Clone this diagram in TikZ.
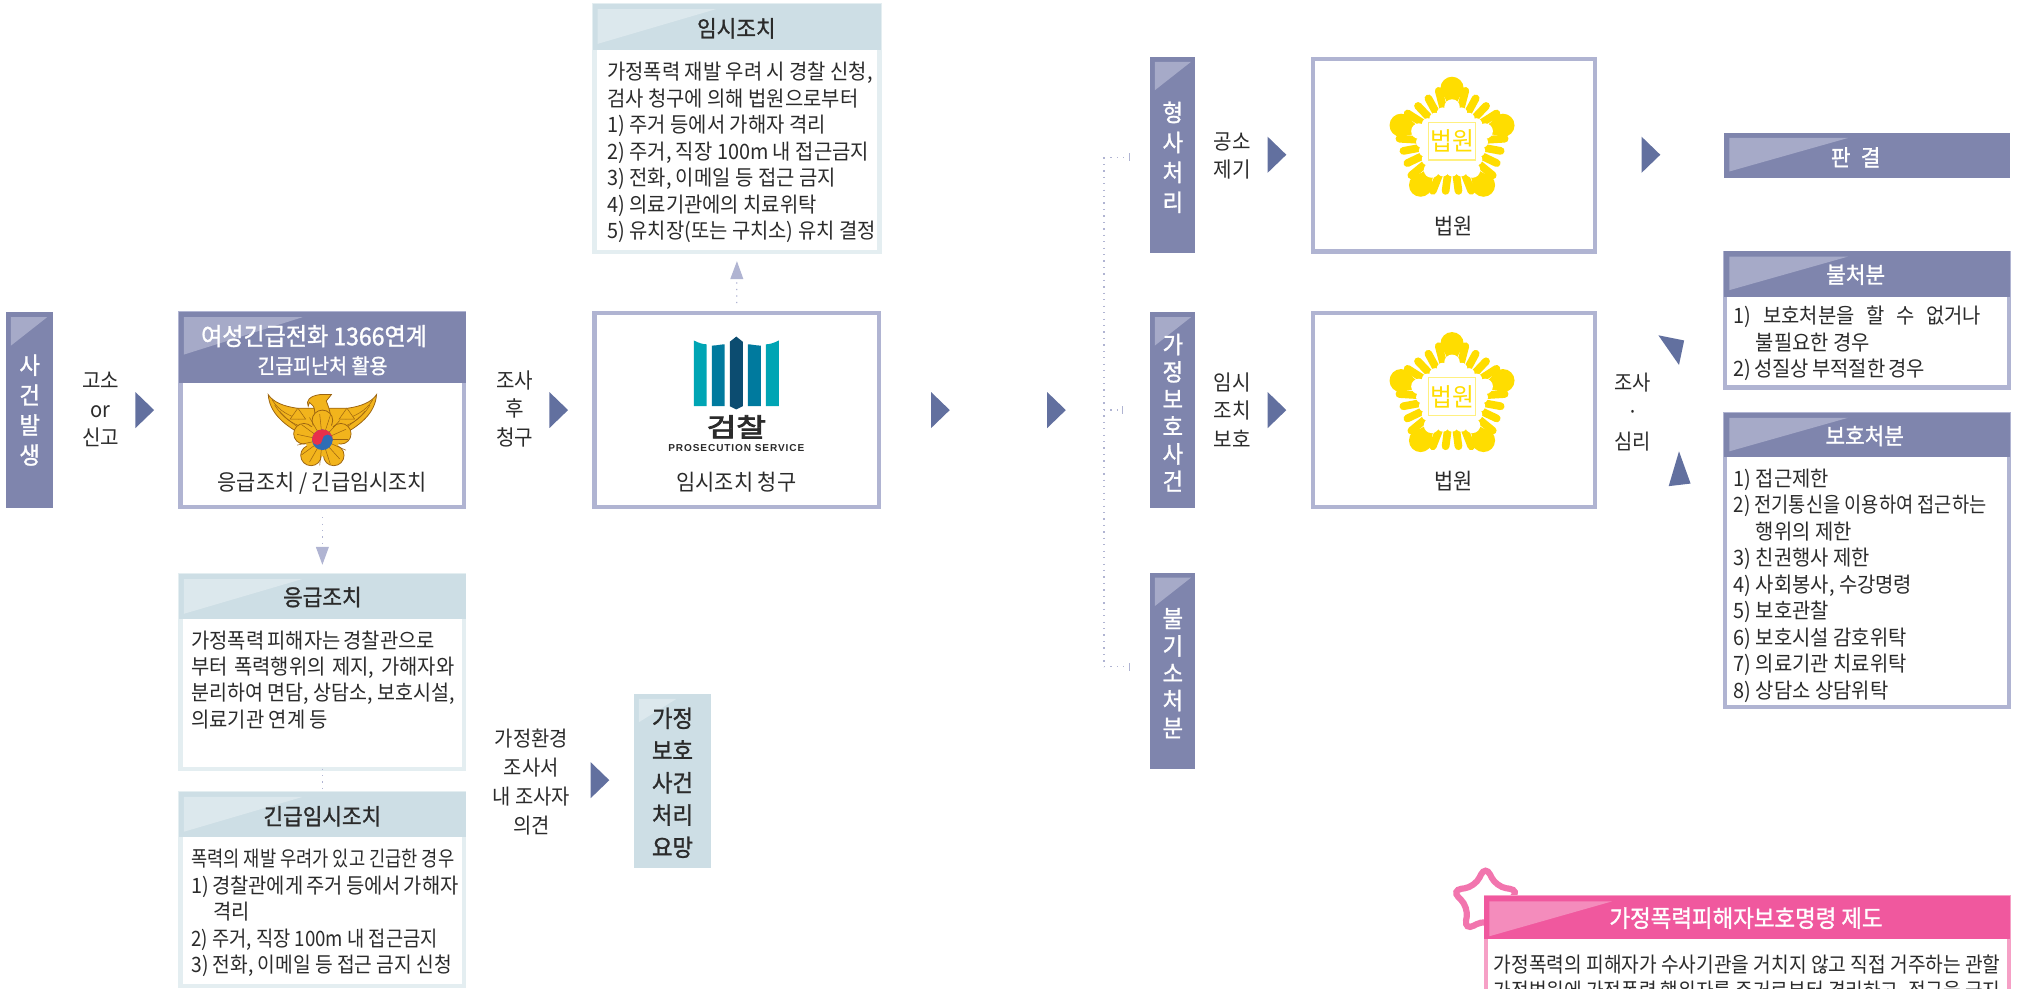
\documentclass[tikz,border=0pt]{standalone}
\usepackage{fontspec}
\usepackage{graphicx}
\setmainfont[FakeStretch=0.94]{Noto Sans CJK KR}
\newfontfamily\hdrf[FakeBold=1.2,FakeStretch=0.94]{Noto Sans CJK KR}
\newfontfamily\heavyf[FakeBold=3]{Noto Sans CJK KR}
\newfontfamily\prosf[LetterSpace=9]{Liberation Sans}
\usetikzlibrary{arrows.meta,shapes.geometric,calc}
\definecolor{navy}{HTML}{7F85AD}
\definecolor{navyl}{HTML}{A6AAC8}
\definecolor{navyb}{HTML}{B0B4D2}
\definecolor{teal}{HTML}{CDDEE5}
\definecolor{teall}{HTML}{DCE8ED}
\definecolor{tealb}{HTML}{E4EEF1}
\definecolor{tri}{HTML}{62709F}
\definecolor{ink}{HTML}{2B2B2B}
\definecolor{pink}{HTML}{F0589E}
\definecolor{pinkl}{HTML}{F48CBC}
\definecolor{pinkb}{HTML}{F6A0C6}
\definecolor{seal}{HTML}{FFDD00}
\definecolor{sealb}{HTML}{FFF080}
\definecolor{gold}{HTML}{F2B41C}
\definecolor{goldd}{HTML}{9C6410}
\definecolor{pa}{HTML}{00A5B4}
\definecolor{pb}{HTML}{007A9E}
\definecolor{pc}{HTML}{0C4C70}
\definecolor{tgr}{HTML}{E8304A}
\definecolor{tgb}{HTML}{2F6DB5}
\newcommand{\fs}[2]{\fontsize{#1}{#2}\selectfont}
\newcommand{\spr}[2]{\makebox[#1][s]{#2}}
\newcommand{\nar}[2]{\resizebox{#1}{\height}{#2}}
\newcommand{\rct}[6]{% name x1 y1 x2 y2 style
  \pgfmathsetmacro{\rw}{(#4-#2)*0.5}\pgfmathsetmacro{\rh}{(#5-#3)*0.5}
  \node[#6,minimum width=\rw pt,minimum height=\rh pt] (#1) at ({(#2+#4)/2},{(#3+#5)/2}) {};}
\newcommand{\corner}[5]{% node color dx dw dh
  \fill[#2] ([shift={(#3,4)}]#1.north west) -- ([shift={(#3+#4,4)}]#1.north west) -- ([shift={(#3,4+#5)}]#1.north west) -- cycle;}
\newcommand{\arr}[2]{\fill[tri] (#1,#2-14) -- (#1+14.5,#2) -- (#1,#2+14) -- cycle;}
\newcommand{\courtseal}[3]{% name cx cy
  \begin{scope}[shift={(#2,#3)}]
    \foreach \a in {90,162,234,306,18}{
      \pgfmathsetmacro{\ca}{cos(\a)}\pgfmathsetmacro{\sa}{sin(\a)}
      \fill[seal] ({41.5*\ca},{-41.5*\sa}) circle[radius=9];
      \fill[seal] ({41.5*\ca+8.9*\sa},{-41.5*\sa+8.9*\ca}) -- ({41.5*\ca-8.9*\sa},{-41.5*\sa-8.9*\ca}) -- ({22*\ca},{-22*\sa}) -- cycle;
      \pgfmathsetmacro{\cb}{cos(\a+72)}\pgfmathsetmacro{\sb}{sin(\a+72)}
      \foreach \t in {0.23,0.41,0.59,0.77}{
        \pgfmathsetmacro{\px}{47*((1-\t)*\ca+\t*\cb)}
        \pgfmathsetmacro{\py}{-47*((1-\t)*\sa+\t*\sb)}
        \draw[seal,line width=3pt,line cap=round] ({\px},{\py}) -- ({\px*0.6},{\py*0.6});
      }
    }
    \foreach \a in {90,162,234,306,18}{
      \pgfmathsetmacro{\ca}{cos(\a)}\pgfmathsetmacro{\sa}{sin(\a)}
      \fill[white] ({27*\ca},{-27*\sa}) circle[radius=6];
      \pgfmathsetmacro{\cb}{cos(\a+72)}\pgfmathsetmacro{\sb}{sin(\a+72)}
      \foreach \t in {0.28,0.5,0.72}{
        \fill[white] ({27.5*((1-\t)*\ca+\t*\cb)},{-27.5*((1-\t)*\sa+\t*\sb)}) circle[radius=4.5];
      }
    }
    \fill[white] ({29*cos(90)},{-29*sin(90)}) -- ({29*cos(162)},{-29*sin(162)}) -- ({29*cos(234)},{-29*sin(234)}) -- ({29*cos(306)},{-29*sin(306)}) -- ({29*cos(18)},{-29*sin(18)}) -- cycle;
    \node[draw=sealb,line width=.5pt,minimum width=18pt,minimum height=14.5pt,inner sep=0,text=seal,font=\fs{9.8}{9}] (#1) at (0,-0.5) {법원};
  \end{scope}}
\newcommand{\policeseal}[3]{% name cx cy
  \begin{scope}[shift={(#2,#3)}]
    \foreach \sx in {-1,1}{
      \begin{scope}[xscale=\sx]
        \filldraw[fill=gold,draw=goldd,line width=.3pt] (42,-27) .. controls (41,-13) and (30,-3) .. (12,6) -- (4,-8) -- (4,-16.5) -- (20,-16.5) .. controls (30,-18) and (38,-21) .. cycle;
        \draw[goldd,line width=.2pt] (37,-19) .. controls (31,-9) and (24,-5) .. (16,-2);
        \draw[goldd,line width=.2pt] (33,-14) .. controls (28,-8) and (22,-4) .. (15,1);
        \draw[goldd,line width=.2pt] (39,-23) .. controls (34,-14) and (24,-10) .. (18,-8);
        \filldraw[fill=gold,draw=goldd,line width=.2pt] (19,-16.5) -- (13,-8) -- (25,-8) -- cycle;
      \end{scope}}
    \filldraw[fill=gold,draw=goldd,line width=.3pt] (-6,4) -- (-6,-14) .. controls (-6,-18) and (-8,-19) .. (-10,-21) -- (-11,-18) .. controls (-13,-22) and (-10,-26) .. (-2,-27) -- (7,-27) -- (3,-22) .. controls (6,-15) and (7,-10) .. (7,4) -- cycle;
    \foreach \a in {90,162,234,306,18}{
      \filldraw[fill=gold,draw=goldd,line width=.3pt] ({15*cos(\a)},{8-15*sin(\a)}) circle[radius=8];}
    \fill[gold] ({16*cos(90)},{8-16*sin(90)}) -- ({16*cos(162)},{8-16*sin(162)}) -- ({16*cos(234)},{8-16*sin(234)}) -- ({16*cos(306)},{8-16*sin(306)}) -- ({16*cos(18)},{8-16*sin(18)}) -- cycle;
    \foreach \a in {0,24,...,336}{\draw[goldd,line width=.2pt] ({7*cos(\a)},{8-7*sin(\a)}) -- ({20*cos(\a)},{8-20*sin(\a)});}
    \fill[tgb] (0,8) circle[radius=8];
    \fill[tgr] (-8,8) arc[start angle=180,end angle=360,radius=8] -- cycle;
    \fill[tgr] (-4,8) circle[radius=4];
    \fill[tgb] (4,8) circle[radius=4];
    \coordinate (#1) at (0,8);
  \end{scope}}
\tikzset{
  x=0.5pt,y=-0.5pt,
  hdrbar/.style={fill=navy,inner sep=0,outer sep=0},
  hdrteal/.style={fill=teal,inner sep=0,outer sep=0},
  hdrpink/.style={fill=pink,inner sep=0,outer sep=0},
  frameb/.style={draw=navyb,fill=white,line width=1.6pt,inner sep=0,outer sep=0},
  framet/.style={draw=tealb,fill=white,line width=1.6pt,inner sep=0,outer sep=0},
  framep/.style={draw=pinkb,fill=white,line width=1.6pt,inner sep=0,outer sep=0},
  barlbl/.style={text=white,align=center,inner sep=0,font=\hdrf\fs{9.2}{10.6}},
  hlbl/.style={text=white,inner sep=0,align=center,font=\hdrf\fs{8.8}{11}},
  tlbl/.style={text=ink,inner sep=0,align=center,font=\hdrf\fs{8.8}{11}},
  lbl/.style={text=ink,inner sep=0,align=center,font=\fs{8.3}{11}},
  body/.style={text=ink,inner sep=0,align=left,anchor=north west,font=\fs{8.2}{10.27}},
  dotc/.style={draw=navyb,dotted,line width=.5pt},
  dota/.style={dotc,-{Triangle[width=5pt,length=7pt,fill=navyb]}},
}
\begin{document}
\begin{tikzpicture}
\useasboundingbox (0,0) rectangle (1568,766.2);
\clip (0,0) rectangle (1568,766.2);
% left bar
\rct{bA}{5}{242}{41}{394}{hdrbar}
\corner{bA}{navyl}{3.5}{28}{22}
\node[barlbl,font=\hdrf\fs{9.2}{11.6}] (bAt) at (23,318) {사\\건\\발\\생};
\node[lbl] (lA) at (78,317.5) {고소\\or\\신고};
\arr{105}{318}
% police box
\rct{polF}{140}{243}{360}{393}{frameb}
\rct{polH}{139}{242}{361}{297}{hdrbar}
\corner{polH}{navyl}{3.5}{92}{29}
\node[hlbl,font=\hdrf\fs{9.5}{11}] (polT) at (243.5,271.5) {여성긴급전화 1366연계\\{\hspace*{6.5pt}\fs{8.05}{11}긴급피난처 활용}};
\policeseal{polS}{250}{333}
\node[lbl,font=\fs{8.6}{11}] (polL) at (250,375) {응급조치 / 긴급임시조치};
\node[lbl] (lB) at (399,317) {조사\\후\\청구};
\arr{426}{318}
% prosecution
\rct{proF}{461}{243}{681.5}{393}{frameb}
\fill[pa] (538,264) .. controls (542,266) and (545,267) .. (548,267) -- (548,315) -- (538,315) -- cycle;
\fill[pb] (552,268) .. controls (556,268) and (559,267) .. (562,267) -- (562,315) -- (552,315) -- cycle;
\fill[pc] (566,265) -- (571,261) -- (576,265) -- (576,315) -- (571,317.5) -- (566,315) -- cycle;
\fill[pb] (580,267) .. controls (583,267) and (586,268) .. (590,268) -- (590,315) -- (580,315) -- cycle;
\fill[pa] (594,267) .. controls (597,267) and (600,266) .. (604,264) -- (604,315) -- (594,315) -- cycle;
\node[inner sep=0,text=ink,font=\heavyf\fs{10}{11}] (proB) at (571,331) {\scalebox{1.25}[1]{검찰}};
\node[inner sep=0,text=ink,font=\prosf\bfseries\fs{3.9}{5}] (proE) at (571,347.5) {PROSECUTION SERVICE};
\node[lbl,font=\fs{8.6}{11}] (proL) at (571,374) {임시조치 청구};
% temporary measures
\rct{tmF}{461}{4}{682}{195.5}{framet}
\rct{tmH}{460}{3}{683}{39}{hdrteal}
\corner{tmH}{teall}{3.5}{92}{27}
\node[tlbl] (tmT) at (571,22) {임시조치};
\node[body] (tmB) at (470.5,48) {가정폭력 재발 우려 시 경찰 신청,\\검사 청구에 의해 법원으로부터\\1) 주거 등에서 가해자 격리\\2) 주거, 직장 100m 내 접근금지\\3) 전화, 이메일 등 접근 금지\\4) 의료기관에의 치료위탁\\5) 유치장(또는 구치소) 유치 결정};
\draw[dota,shorten <=4pt,shorten >=3.5pt] (proF.north) -- (tmF.south);
% middle arrows
\arr{722}{318}
\arr{812}{318}
% emergency measures
\rct{emF}{140}{446}{360}{596}{framet}
\rct{emH}{139}{445}{361}{480}{hdrteal}
\corner{emH}{teall}{3.5}{92}{27}
\node[tlbl] (emT) at (250,463) {응급조치};
\node[body] (emB) at (148,488.5) {\spr{93.5pt}{가정폭력 피해자는 경찰관으로}\\\spr{102pt}{부터 폭력행위의 제지, 가해자와}\\\nar{102pt}{분리하여 면담, 상담소, 보호시설,}\\의료기관 연계 등};
\rct{eiF}{140}{615}{360}{764.5}{framet}
\rct{eiH}{139}{614}{361}{649}{hdrteal}
\corner{eiH}{teall}{3.5}{92}{27}
\node[tlbl] (eiT) at (250,633) {긴급임시조치};
\node[body] (eiB) at (148,658) {\nar{102pt}{폭력의 재발 우려가 있고 긴급한 경우}\\\spr{102pt}{1) 경찰관에게 주거 등에서 가해자}\\\phantom{1) }격리\\\nar{95.5pt}{2) 주거, 직장 100m 내 접근금지}\\\nar{101pt}{3) 전화, 이메일 등 접근 금지 신청}};
\draw[dota,shorten <=4pt,shorten >=3.5pt] (polF.south) -- (emH.north);
\draw[dotc] (emF.south) -- (eiH.north);
\node[lbl,font=\fs{8.2}{11.3}] (lC) at (412,606.5) {가정환경\\조사서\\내 조사자\\의견};
\arr{458}{605}
\rct{reqF}{492}{538}{551}{673}{hdrteal}
\corner{reqF}{teall}{3.5}{29}{18}
\node[tlbl,font=\hdrf\fs{9.2}{12.5}] (reqT) at (521.5,607) {가정\\보호\\사건\\처리\\요망};
% tree
\coordinate (tT) at (856,122);
\coordinate (tM) at (856,318);
\coordinate (tB) at (856,517);
\coordinate (eT) at (876,122);
\coordinate (eM) at (871,318);
\coordinate (eB) at (876,517);
\draw[dotc,-{Bar[width=3pt,line width=.3pt]}] (tT) -- (eT);
\draw[dotc,-{Bar[width=3pt,line width=.3pt]}] (tB) -- (eB);
\draw[dotc,-{Bar[width=3pt,line width=.3pt]}] (tM) -- (eM);
\draw[dotc] (tT) -- (tB);
% category bars
\rct{bB}{892}{44}{927}{196}{hdrbar}
\corner{bB}{navyl}{3.5}{28}{22}
\node[barlbl,font=\hdrf\fs{9.2}{11.6}] (bBt) at (909.5,122) {형\\사\\처\\리};
\rct{bC}{892}{242}{927}{394}{hdrbar}
\corner{bC}{navyl}{3.5}{28}{22}
\node[barlbl] (bCt) at (909.5,320) {가\\정\\보\\호\\사\\건};
\rct{bD}{892}{444}{927}{596}{hdrbar}
\corner{bD}{navyl}{3.5}{28}{22}
\node[barlbl] (bDt) at (909.5,522) {불\\기\\소\\처\\분};
\node[lbl] (lD) at (955.5,121) {공소\\제기};
\arr{983}{120}
\node[lbl] (lE) at (955.5,318) {임시\\조치\\보호};
\arr{983}{318}
% court boxes
\rct{cA}{1018}{46}{1237}{195}{frameb}
\courtseal{cAs}{1126}{110}
\node[lbl,font=\fs{8.6}{11}] (cAl) at (1127,175) {법원};
\rct{cB}{1018}{243}{1237}{393}{frameb}
\courtseal{cBs}{1126}{308}
\node[lbl,font=\fs{8.6}{11}] (cBl) at (1127,373) {법원};
\arr{1273}{120}
% verdict
\rct{vA}{1337}{103}{1559}{138}{hdrbar}
\corner{vA}{navyl}{4}{92}{26}
\node[hlbl] (vAt) at (1439,122) {판\hspace{4pt}결};
% no disposition
\rct{ndF}{1338}{196}{1558}{300.5}{frameb}
\rct{ndH}{1337}{195}{1559}{230}{hdrbar}
\corner{ndH}{navyl}{4}{92}{26}
\node[hlbl] (ndT) at (1439,213) {불처분};
\node[body] (ndB) at (1344,237) {\spr{96pt}{1) 보호처분을 할 수 없거나}\\\phantom{1) }불필요한 경우\\\spr{73.5pt}{2) 성질상 부적절한 경우}};
% protection disposition
\rct{pdF}{1338}{321}{1558}{548.5}{frameb}
\rct{pdH}{1337}{320}{1559}{354}{hdrbar}
\corner{pdH}{navyl}{4}{92}{26}
\node[hlbl] (pdT) at (1446,338) {보호처분};
\node[body] (pdB) at (1344,363) {1) 접근제한\\\nar{98pt}{2) 전기통신을 이용하여 접근하는}\\\phantom{1) }행위의 제한\\3) 친권행사 제한\\4) 사회봉사, 수강명령\\5) 보호관찰\\6) 보호시설 감호위탁\\7) 의료기관 치료위탁\\8) 상담소 상담위탁};
\node[lbl,font=\fs{8.2}{11.6}] (lF) at (1266,319.5) {조사\\·\\심리};
\fill[tri] (1286,260) -- (1306,264) -- (1302,283) -- cycle;
\fill[tri] (1302,350) -- (1311,375) -- (1294,377) -- cycle;
% pink box
\node[star,star points=5,star point ratio=2,draw=pinkb!40!pink,fill=white,line width=2.4pt,rounded corners=4pt,minimum size=28pt,inner sep=0] (starK) at (1152,699) {};
\rct{hpF}{1152}{696}{1558}{790}{framep}
\rct{hpH}{1151}{695}{1559}{728}{hdrpink}
\corner{hpH}{pinkl}{4}{95}{27}
\node[hlbl,font=\hdrf\fs{9.25}{11}] (hpT) at (1354,712) {가정폭력피해자보호명령 제도};
\node[body] (hpB) at (1158,740) {\nar{196.5pt}{가정폭력의 피해자가 수사기관을 거치지 않고 직접 거주하는 관할}\\\nar{196.5pt}{가정법원에 가정폭력 행위자를 주거로부터 격리하고, 접근을 금지}};
\end{tikzpicture}
\end{document}
